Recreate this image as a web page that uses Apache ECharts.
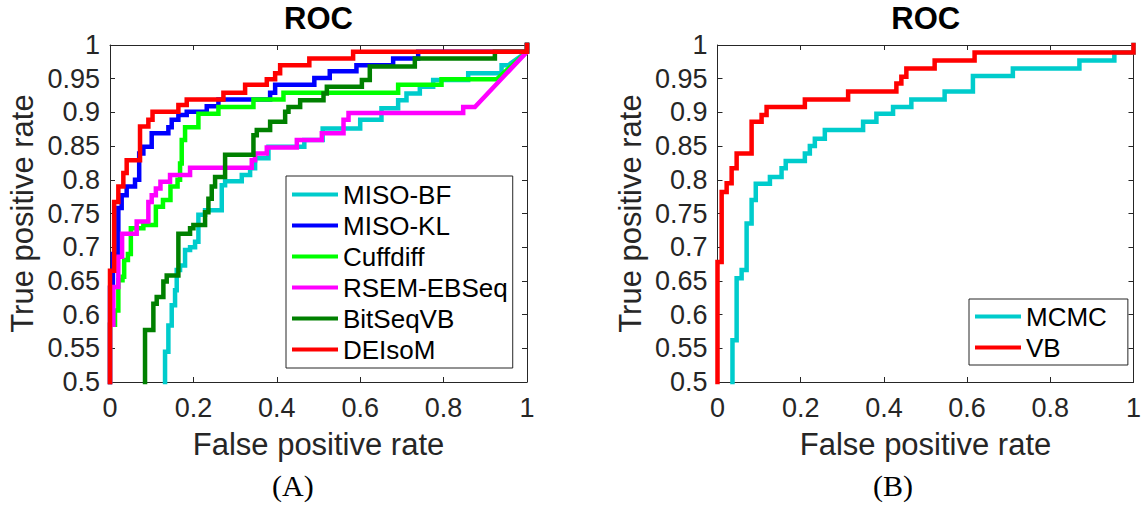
<!DOCTYPE html>
<html>
<head>
<meta charset="utf-8">
<script src="https://cdn.jsdelivr.net/npm/echarts@6/dist/echarts.min.js"></script>
<style>
  html, body { margin: 0; padding: 0; background: #fff; }
  #chart { width: 1144px; height: 508px; }
</style>
</head>
<body>
<div id="chart"></div>
<script>
// Axis ticks
const fprTicks = [0, 0.2, 0.4, 0.6, 0.8, 1];
const tprTicks = [0.5, 0.55, 0.6, 0.65, 0.7, 0.75, 0.8, 0.85, 0.9, 0.95, 1];

// Panel A: ROC curves of six methods, [false positive rate, true positive rate]
const misoBF = [[0.132,0.5],[0.132,0.545],[0.14,0.545],[0.14,0.584],[0.148,0.584],[0.148,0.614],[0.156,0.614],[0.156,0.636],[0.16,0.636],[0.16,0.666],[0.168,0.666],[0.168,0.673],[0.18,0.673],[0.18,0.696],[0.192,0.696],[0.192,0.70],[0.204,0.70],[0.204,0.708],[0.212,0.708],[0.212,0.748],[0.228,0.748],[0.228,0.755],[0.268,0.755],[0.268,0.792],[0.276,0.792],[0.276,0.798],[0.316,0.798],[0.316,0.807],[0.336,0.807],[0.336,0.817],[0.348,0.817],[0.348,0.832],[0.38,0.832],[0.38,0.849],[0.466,0.849],[0.466,0.859],[0.51,0.859],[0.51,0.876],[0.6,0.876],[0.6,0.889],[0.651,0.889],[0.651,0.906],[0.691,0.906],[0.691,0.918],[0.711,0.918],[0.711,0.928],[0.743,0.928],[0.743,0.938],[0.775,0.938],[0.775,0.948],[0.859,0.948],[0.859,0.958],[0.939,0.958],[0.939,0.97],[0.955,0.97],[1,0.99],[1,1]];
const misoKL = [[0,0.5],[0,0.64],[0.007,0.64],[0.007,0.69],[0.02,0.69],[0.02,0.758],[0.028,0.758],[0.028,0.777],[0.04,0.777],[0.04,0.79],[0.06,0.79],[0.06,0.8],[0.07,0.8],[0.07,0.839],[0.08,0.839],[0.08,0.849],[0.1,0.849],[0.1,0.869],[0.14,0.869],[0.14,0.878],[0.148,0.878],[0.148,0.889],[0.164,0.889],[0.164,0.896],[0.184,0.896],[0.184,0.901],[0.232,0.901],[0.232,0.909],[0.26,0.909],[0.26,0.919],[0.384,0.919],[0.384,0.929],[0.396,0.929],[0.396,0.941],[0.49,0.941],[0.49,0.951],[0.527,0.951],[0.527,0.961],[0.591,0.961],[0.591,0.970],[0.679,0.970],[0.679,0.980],[0.739,0.980],[0.739,0.99],[1,0.99],[1,1]];
const cuffdiff = [[0,0.5],[0,0.585],[0.012,0.585],[0.012,0.606],[0.02,0.606],[0.02,0.651],[0.03,0.651],[0.03,0.656],[0.034,0.656],[0.034,0.681],[0.043,0.681],[0.043,0.69],[0.05,0.69],[0.05,0.728],[0.08,0.728],[0.08,0.733],[0.11,0.733],[0.11,0.76],[0.127,0.76],[0.127,0.77],[0.145,0.77],[0.145,0.79],[0.162,0.79],[0.162,0.80],[0.168,0.80],[0.168,0.824],[0.172,0.824],[0.172,0.859],[0.18,0.859],[0.18,0.878],[0.212,0.878],[0.212,0.898],[0.26,0.898],[0.26,0.908],[0.344,0.908],[0.344,0.919],[0.416,0.919],[0.416,0.929],[0.691,0.929],[0.691,0.941],[0.795,0.941],[0.795,0.949],[0.927,0.949],[1,0.99],[1,1]];
const rsemEBSeq = [[0,0.5],[0,0.585],[0.008,0.585],[0.008,0.641],[0.02,0.641],[0.02,0.686],[0.029,0.686],[0.029,0.72],[0.064,0.72],[0.064,0.738],[0.092,0.738],[0.092,0.767],[0.1,0.767],[0.1,0.777],[0.11,0.777],[0.11,0.787],[0.121,0.787],[0.121,0.797],[0.144,0.797],[0.144,0.807],[0.192,0.807],[0.192,0.818],[0.34,0.818],[0.34,0.829],[0.348,0.829],[0.348,0.839],[0.376,0.839],[0.376,0.848],[0.448,0.848],[0.448,0.859],[0.508,0.859],[0.508,0.869],[0.56,0.869],[0.56,0.889],[0.572,0.889],[0.572,0.899],[0.847,0.899],[0.847,0.908],[0.875,0.908],[1,0.99],[1,1]];
const bitSeqVB = [[0.084,0.5],[0.084,0.577],[0.104,0.577],[0.104,0.616],[0.112,0.616],[0.112,0.626],[0.128,0.626],[0.128,0.649],[0.136,0.649],[0.136,0.658],[0.164,0.658],[0.164,0.72],[0.192,0.72],[0.192,0.728],[0.2,0.728],[0.2,0.733],[0.228,0.733],[0.228,0.752],[0.236,0.752],[0.236,0.772],[0.244,0.772],[0.244,0.79],[0.252,0.79],[0.252,0.804],[0.276,0.804],[0.276,0.837],[0.344,0.837],[0.344,0.866],[0.352,0.866],[0.352,0.874],[0.384,0.874],[0.384,0.886],[0.42,0.886],[0.42,0.901],[0.428,0.901],[0.428,0.908],[0.456,0.908],[0.456,0.918],[0.512,0.918],[0.512,0.928],[0.52,0.928],[0.52,0.938],[0.604,0.938],[0.604,0.948],[0.623,0.948],[0.623,0.968],[0.731,0.968],[0.731,0.98],[0.923,0.98],[0.923,0.99],[1,0.99],[1,1]];
const deIsoM = [[0,0.5],[0,0.665],[0.01,0.665],[0.01,0.767],[0.02,0.767],[0.02,0.79],[0.032,0.79],[0.032,0.81],[0.04,0.81],[0.04,0.829],[0.072,0.829],[0.072,0.879],[0.092,0.879],[0.092,0.889],[0.102,0.889],[0.102,0.901],[0.164,0.901],[0.164,0.911],[0.184,0.911],[0.184,0.919],[0.272,0.919],[0.272,0.929],[0.324,0.929],[0.324,0.941],[0.376,0.941],[0.376,0.949],[0.396,0.949],[0.396,0.958],[0.408,0.958],[0.408,0.97],[0.478,0.97],[0.478,0.98],[0.583,0.98],[0.583,0.99],[1,0.99],[1,1]];

// Panel B: MCMC versus VB
const mcmc = [[0.036,0.5],[0.036,0.562],[0.046,0.562],[0.046,0.654],[0.058,0.654],[0.058,0.666],[0.07,0.666],[0.07,0.735],[0.082,0.735],[0.082,0.77],[0.092,0.77],[0.092,0.794],[0.126,0.794],[0.126,0.804],[0.154,0.804],[0.154,0.817],[0.164,0.817],[0.164,0.828],[0.21,0.828],[0.21,0.839],[0.222,0.839],[0.222,0.85],[0.234,0.85],[0.234,0.861],[0.258,0.861],[0.258,0.874],[0.35,0.874],[0.35,0.886],[0.382,0.886],[0.382,0.898],[0.422,0.898],[0.422,0.908],[0.466,0.908],[0.466,0.919],[0.546,0.919],[0.546,0.931],[0.614,0.931],[0.614,0.954],[0.71,0.954],[0.71,0.965],[0.87,0.965],[0.87,0.977],[0.954,0.977],[0.954,0.989],[1,0.989],[1,1]];
const vb = [[0,0.5],[0,0.678],[0.01,0.678],[0.01,0.782],[0.022,0.782],[0.022,0.795],[0.034,0.795],[0.034,0.817],[0.046,0.817],[0.046,0.839],[0.082,0.839],[0.082,0.886],[0.106,0.886],[0.106,0.896],[0.118,0.896],[0.118,0.908],[0.21,0.908],[0.21,0.919],[0.314,0.919],[0.314,0.931],[0.43,0.931],[0.43,0.943],[0.442,0.943],[0.442,0.953],[0.454,0.953],[0.454,0.965],[0.522,0.965],[0.522,0.977],[0.618,0.977],[0.618,0.989],[1,0.989],[1,1]];

const panelA = [
  { name: 'MISO-BF', data: misoBF, color: '#00cccc' },
  { name: 'MISO-KL', data: misoKL, color: '#0000ff' },
  { name: 'Cuffdiff', data: cuffdiff, color: '#00ff00' },
  { name: 'RSEM-EBSeq', data: rsemEBSeq, color: '#ff00ff' },
  { name: 'BitSeqVB', data: bitSeqVB, color: '#008000' },
  { name: 'DEIsoM', data: deIsoM, color: '#ff0000' }
];
const panelB = [
  { name: 'MCMC', data: mcmc, color: '#00cccc' },
  { name: 'VB', data: vb, color: '#ff0000' }
];

const FONT = '"Liberation Sans", Arial, Helvetica, sans-serif';
const AXIS_COLOR = '#262626';

function fmt(v) { return String(+v.toFixed(2)); }

function xAxisFor(gridIndex, top) {
  return {
    type: 'value', gridIndex, position: top ? 'top' : 'bottom',
    min: fprTicks[0], max: fprTicks[fprTicks.length - 1], interval: 0.2,
    name: top ? '' : 'False positive rate',
    nameLocation: 'middle', nameGap: 47,
    nameTextStyle: { fontFamily: FONT, fontSize: 31, color: AXIS_COLOR },
    axisLine: { show: true, onZero: false, lineStyle: { color: AXIS_COLOR, width: 1 } },
    axisTick: { show: true, inside: true, length: 5, lineStyle: { color: AXIS_COLOR } },
    axisLabel: { show: !top, margin: 12, fontFamily: FONT, fontSize: 27, color: AXIS_COLOR, formatter: fmt },
    splitLine: { show: false }
  };
}
function yAxisFor(gridIndex, right) {
  return {
    type: 'value', gridIndex, position: right ? 'right' : 'left',
    min: tprTicks[0], max: tprTicks[tprTicks.length - 1], interval: 0.05,
    name: right ? '' : 'True positive rate',
    nameLocation: 'middle', nameGap: 72,
    nameTextStyle: { fontFamily: FONT, fontSize: 31, color: AXIS_COLOR },
    axisLine: { show: true, onZero: false, lineStyle: { color: AXIS_COLOR, width: 1 } },
    axisTick: { show: true, inside: true, length: 5, lineStyle: { color: AXIS_COLOR } },
    axisLabel: { show: !right, margin: 10, fontFamily: FONT, fontSize: 27, color: AXIS_COLOR, formatter: fmt },
    splitLine: { show: false }
  };
}

function lineSeries(s, axisIdx) {
  return {
    type: 'line', name: s.name, data: s.data, color: s.color,
    xAxisIndex: axisIdx * 2, yAxisIndex: axisIdx * 2,
    showSymbol: false, symbol: 'none', clip: false,
    lineStyle: { width: 4.5, color: s.color, join: 'miter', cap: 'square' },
    emphasis: { disabled: true }
  };
}

function legendFor(names, pos, padding) {
  return Object.assign({
    data: names, orient: 'vertical', icon: 'rect',
    itemWidth: 46, itemHeight: 4, itemGap: 0,
    padding: padding, borderColor: AXIS_COLOR, borderWidth: 1, backgroundColor: '#fff',
    textStyle: { fontFamily: FONT, fontSize: 26, color: '#000', lineHeight: 31 },
    selectedMode: false
  }, pos);
}

const chart = echarts.init(document.getElementById('chart'), null, { renderer: 'svg' });
chart.setOption({
  animation: false,
  backgroundColor: '#fff',
  title: [
    { text: 'ROC', left: 318.5, top: 3, textAlign: 'center', padding: 0,
      textStyle: { fontFamily: FONT, fontSize: 31, fontWeight: 'bold', color: '#000' } },
    { text: 'ROC', left: 925.8, top: 3, textAlign: 'center', padding: 0,
      textStyle: { fontFamily: FONT, fontSize: 31, fontWeight: 'bold', color: '#000' } }
  ],
  grid: [
    { left: 110, top: 45, width: 417, height: 337 },
    { left: 717.5, top: 45, width: 416.7, height: 337 }
  ],
  xAxis: [xAxisFor(0, false), xAxisFor(0, true), xAxisFor(1, false), xAxisFor(1, true)],
  yAxis: [yAxisFor(0, false), yAxisFor(0, true), yAxisFor(1, false), yAxisFor(1, true)],
  legend: [
    legendFor(panelA.map(s => s.name), { left: 286, top: 176 }, [3, 5, 3, 6]),
    legendFor(panelB.map(s => s.name), { left: 969, top: 299 }, [2, 21, 2, 6])
  ],
  graphic: [
    { type: 'text', left: 272, top: 470,
      style: { text: '(A)', font: '30px "Liberation Serif", "DejaVu Serif", serif', fill: '#000' } },
    { type: 'text', left: 873, top: 470,
      style: { text: '(B)', font: '30px "Liberation Serif", "DejaVu Serif", serif', fill: '#000' } }
  ],
  series: panelA.map(s => lineSeries(s, 0)).concat(panelB.map(s => lineSeries(s, 1)))
});
</script>
</body>
</html>
